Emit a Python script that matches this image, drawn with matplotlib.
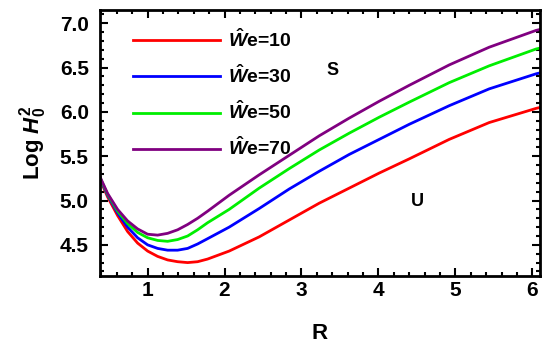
import matplotlib
matplotlib.use("Agg")
import matplotlib.pyplot as plt
from matplotlib.ticker import MultipleLocator

R = [0.38, 0.48, 0.61, 0.74, 0.87, 1.0, 1.13, 1.26, 1.39, 1.52, 1.65, 1.78, 2.06, 2.45,
     2.84, 3.23, 3.62, 4.01, 4.40, 4.92, 5.44, 6.05, 6.1]
we10 = [5.24, 5.04, 4.83, 4.65, 4.52, 4.43, 4.37, 4.33, 4.31, 4.30, 4.31, 4.34, 4.43, 4.59,
        4.78, 4.97, 5.14, 5.31, 5.47, 5.69, 5.88, 6.04, 6.05]
we30 = [5.25, 5.06, 4.86, 4.70, 4.58, 4.50, 4.46, 4.44, 4.44, 4.46, 4.51, 4.57, 4.70, 4.91,
        5.13, 5.33, 5.52, 5.69, 5.86, 6.07, 6.26, 6.43, 6.44]
we50 = [5.26, 5.07, 4.88, 4.74, 4.64, 4.58, 4.55, 4.54, 4.56, 4.60, 4.67, 4.75, 4.90, 5.14,
        5.36, 5.57, 5.76, 5.94, 6.11, 6.33, 6.52, 6.71, 6.72]
we70 = [5.27, 5.08, 4.90, 4.77, 4.68, 4.62, 4.61, 4.63, 4.67, 4.73, 4.80, 4.88, 5.06, 5.29,
        5.51, 5.73, 5.93, 6.12, 6.30, 6.53, 6.73, 6.92, 6.93]
labels = [r"$\hat{W}$e=10", r"$\hat{W}$e=30", r"$\hat{W}$e=50", r"$\hat{W}$e=70"]
colors = ["#ff0000", "#0000ff", "#00ee00", "#800080"]

plt.rcParams["font.family"] = ["Liberation Sans", "DejaVu Sans"]
plt.rcParams["font.weight"] = "bold"
plt.rcParams["mathtext.fontset"] = "custom"
plt.rcParams["mathtext.it"] = "Liberation Sans:bold:italic"
plt.rcParams["mathtext.rm"] = "Liberation Sans:bold"
plt.rcParams["mathtext.bf"] = "Liberation Sans:bold"

fig = plt.figure(figsize=(5.46, 3.44), dpi=100)
ax = fig.add_axes([0.183, 0.198, 0.806, 0.773])

for ys, lab, c in zip([we10, we30, we50, we70], labels, colors):
    ax.plot(R, ys, color=c, lw=2.0, label=lab, solid_joinstyle="round")

ax.set_xlim(0.38, 6.1)
ax.set_ylim(4.15, 7.15)
ax.xaxis.set_major_locator(MultipleLocator(1))
ax.xaxis.set_minor_locator(MultipleLocator(0.2))
ax.yaxis.set_major_locator(MultipleLocator(0.5))
ax.yaxis.set_minor_locator(MultipleLocator(0.1))
ax.tick_params(which="both", direction="in", top=True, right=True, labelsize=15, width=1.5)
ax.tick_params(which="major", length=6)
ax.tick_params(which="minor", length=3)
ax.tick_params(axis="y", pad=8)
for s in ax.spines.values():
    s.set_linewidth(2)

ax.set_xlabel("R", fontsize=16, fontweight="bold", labelpad=17)
ax.set_ylabel(r"Log $H_0^2$", fontsize=16, fontweight="bold", labelpad=8)

ax.text(3.40, 6.47, "S", fontsize=13, fontweight="bold", ha="center", va="center")
ax.text(4.51, 4.99, "U", fontsize=13, fontweight="bold", ha="center", va="center")

ax.legend(loc="upper left", frameon=False, fontsize=14, handlelength=4.5,
          labelspacing=0.7, bbox_to_anchor=(0.035, 0.995), handletextpad=0.4)

fig.savefig("out.png", dpi=100)
